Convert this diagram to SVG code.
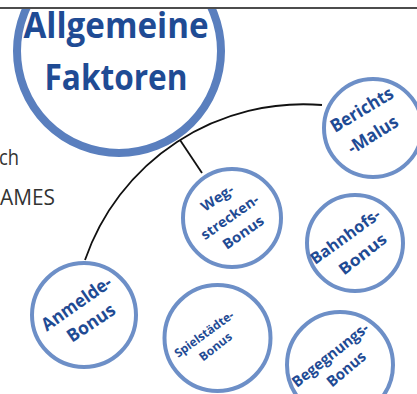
<svg xmlns="http://www.w3.org/2000/svg" width="417" height="394" viewBox="0 0 417 394">
<style>
.big{fill:#fff;stroke:#5a7fbe;stroke-width:8}
.node{fill:#fff;stroke:#6d8fc7;stroke-width:4}
.lbl{font-family:"Open Sans","Noto Sans",sans-serif;font-weight:700;fill:#1f4b94;text-anchor:middle}
.side{font-family:"Open Sans","Noto Sans",sans-serif;font-size:22px;fill:#333}
.conn{fill:none;stroke:#111;stroke-width:1.8}
</style>
<defs><clipPath id="below"><rect x="0" y="9" width="417" height="385"/></clipPath></defs>
<rect width="417" height="394" fill="#fff"/>
<line x1="0" y1="8" x2="417" y2="8" stroke="#111" stroke-width="1.6"/>
<text class="side" x="-1" y="165" textLength="20" lengthAdjust="spacingAndGlyphs">ch</text>
<text class="side" x="0" y="205" textLength="55" lengthAdjust="spacingAndGlyphs">AMES</text>
<g id="connectors">
<path class="conn" d="M85 260 A231 231 0 0 1 322 105"/>
<line class="conn" x1="180" y1="140" x2="202" y2="173"/>
</g>
<g id="allgemeine" clip-path="url(#below)">
<circle class="big" cx="119" cy="51" r="102"/>
<text class="lbl" x="116" y="38" font-size="35" textLength="185" lengthAdjust="spacingAndGlyphs">Allgemeine</text>
<text class="lbl" x="116" y="90" font-size="35" textLength="143" lengthAdjust="spacingAndGlyphs">Faktoren</text>
</g>
<g id="berichts">
<circle class="node" cx="373" cy="128" r="49"/>
<text class="lbl" font-size="18" textLength="70" lengthAdjust="spacingAndGlyphs" transform="translate(365 115) rotate(-31)">Berichts</text>
<text class="lbl" font-size="18" textLength="56" lengthAdjust="spacingAndGlyphs" transform="translate(376 140) rotate(-32)">-Malus</text>
</g>
<g id="weg">
<circle class="node" cx="232" cy="218" r="49"/>
<text class="lbl" font-size="14" textLength="36" lengthAdjust="spacingAndGlyphs" transform="translate(220 202) rotate(-34)">Weg-</text>
<text class="lbl" font-size="14" textLength="67" lengthAdjust="spacingAndGlyphs" transform="translate(232.5 221) rotate(-35)">strecken-</text>
<text class="lbl" font-size="14" textLength="47" lengthAdjust="spacingAndGlyphs" transform="translate(246 236.5) rotate(-35)">Bonus</text>
</g>
<g id="bahnhofs">
<circle class="node" cx="355" cy="243" r="48"/>
<text class="lbl" font-size="16" textLength="82" lengthAdjust="spacingAndGlyphs" transform="translate(348.5 241) rotate(-36)">Bahnhofs-</text>
<text class="lbl" font-size="16" textLength="56" lengthAdjust="spacingAndGlyphs" transform="translate(366 258.5) rotate(-38)">Bonus</text>
</g>
<g id="anmelde">
<circle class="node" cx="84" cy="315" r="52"/>
<text class="lbl" font-size="18" textLength="81" lengthAdjust="spacingAndGlyphs" transform="translate(80 308.5) rotate(-35)">Anmelde-</text>
<text class="lbl" font-size="18" textLength="54" lengthAdjust="spacingAndGlyphs" transform="translate(94.5 328) rotate(-34)">Bonus</text>
</g>
<g id="spielstaedte">
<circle class="node" cx="217.5" cy="338" r="53"/>
<text class="lbl" font-size="12" textLength="70" lengthAdjust="spacingAndGlyphs" transform="translate(206.5 337.5) rotate(-36)">Spielstädte-</text>
<text class="lbl" font-size="12" textLength="38" lengthAdjust="spacingAndGlyphs" transform="translate(218 350) rotate(-38)">Bonus</text>
</g>
<g id="begegnungs">
<circle class="node" cx="340" cy="365" r="53"/>
<text class="lbl" font-size="15" textLength="93" lengthAdjust="spacingAndGlyphs" transform="translate(333.5 359) rotate(-38.5)">Begegnungs-</text>
<text class="lbl" font-size="15" textLength="46" lengthAdjust="spacingAndGlyphs" transform="translate(349.5 373) rotate(-40)">Bonus</text>
</g>
</svg>
